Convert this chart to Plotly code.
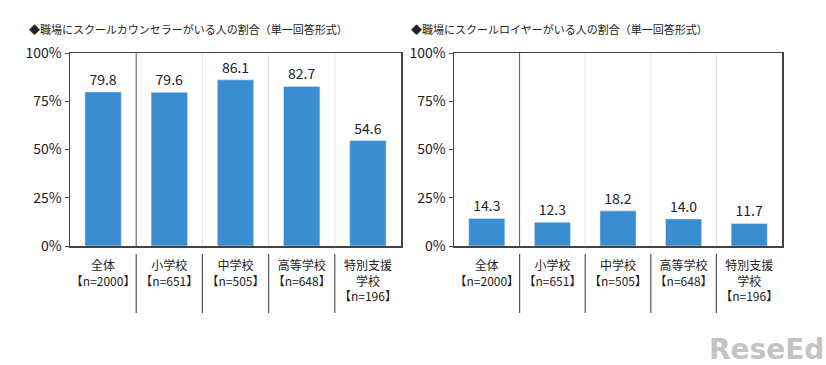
import plotly.graph_objects as go

categories = ["全体", "小学校", "中学校", "高等学校", "特別支援<br>学校"]
sample_sizes = ["【n=2000】", "【n=651】", "【n=505】", "【n=648】", "【n=196】"]
counselor = [79.8, 79.6, 86.1, 82.7, 54.6]
lawyer = [14.3, 12.3, 18.2, 14.0, 11.7]
title_left = "◆職場にスクールカウンセラーがいる人の割合（単一回答形式）"
title_right = "◆職場にスクールロイヤーがいる人の割合（単一回答形式）"
y_ticks = [0, 25, 50, 75, 100]

W, H = 826, 365
FONT = "Noto Sans CJK JP"
BAR = "#3a8dd0"
tick_text = [f"{c}<br>{n}" for c, n in zip(categories, sample_sizes)]

fig = go.Figure()
for vals, xa, ya in ((counselor, "x", "y"), (lawyer, "x2", "y2")):
    fig.add_trace(go.Bar(x=list(range(len(categories))), y=vals, marker_color=BAR, width=0.55,
                         text=[f"{v:.1f}" for v in vals], textposition="outside",
                         textfont=dict(size=14, color="#222", family=FONT), cliponaxis=False,
                         xaxis=xa, yaxis=ya, hoverinfo="skip"))

dom_l = [70 / W, 401 / W]
dom_r = [454 / W, 782 / W]
dom_y = [1 - 246 / H, 1 - 53 / H]

def xax(dom, anchor):
    return dict(domain=dom, anchor=anchor, range=[-0.5, len(categories) - 0.5],
                tickmode="array", tickvals=list(range(len(categories))), ticktext=tick_text,
                showline=True, linecolor="#444", linewidth=1.5, mirror=True,
                showgrid=False, zeroline=False, ticks="", ticklabelstandoff=8,
                automargin=False,
                tickfont=dict(size=12, color="#222", family=FONT), fixedrange=True)

def yax(dom, anchor):
    return dict(domain=dom, anchor=anchor, range=[0, 100], tickvals=y_ticks,
                ticktext=[f"{t}%" for t in y_ticks], showline=True, linecolor="#444",
                linewidth=1.5, mirror=True, showgrid=False, zeroline=False,
                ticks="outside", ticklen=4, tickcolor="#444", automargin=False,
                tickfont=dict(size=14, color="#222", family=FONT), fixedrange=True)

fig.update_layout(
    width=W, height=H, margin=dict(l=0, r=0, t=0, b=0, autoexpand=False),
    paper_bgcolor="white", plot_bgcolor="white", showlegend=False,
    font=dict(family=FONT, color="#222"),
    xaxis=xax(dom_l, "y"), yaxis=yax(dom_y, "x"),
    xaxis2=xax(dom_r, "y2"), yaxis2=yax(dom_y, "x2"),
)

shapes = []
for xr, yr in (("x", "y"), ("x2", "y2")):
    for i in range(1, len(categories)):
        b = i - 0.5
        shapes.append(dict(type="line", xref=xr, yref=f"{yr} domain", x0=b, x1=b, y0=0, y1=1,
                           line=dict(color="#555" if i == 1 else "#e4e4e4", width=1), layer="below"))
        shapes.append(dict(type="line", xref=xr, yref="paper", x0=b, x1=b,
                           y0=1 - 313 / H, y1=1 - 254 / H, line=dict(color="#555", width=1.2)))
fig.update_layout(shapes=shapes)

fig.add_annotation(text=title_left, xref="paper", yref="paper", x=27 / W, y=1 - 29 / H,
                   xanchor="left", yanchor="middle", showarrow=False,
                   font=dict(size=11, color="#222", family=FONT))
fig.add_annotation(text=title_right, xref="paper", yref="paper", x=409 / W, y=1 - 29 / H,
                   xanchor="left", yanchor="middle", showarrow=False,
                   font=dict(size=11, color="#222", family=FONT))
fig.add_annotation(text="<b>ReseEd</b>", xref="paper", yref="paper", x=1, y=1 - 349 / H,
                   xanchor="right", yanchor="middle", showarrow=False,
                   font=dict(size=28, color="#c4c4c4", family="DejaVu Sans"))

fig.write_html("out.html", post_script="document.body.style.margin='0';",
               config={"displayModeBar": False, "staticPlot": True})
